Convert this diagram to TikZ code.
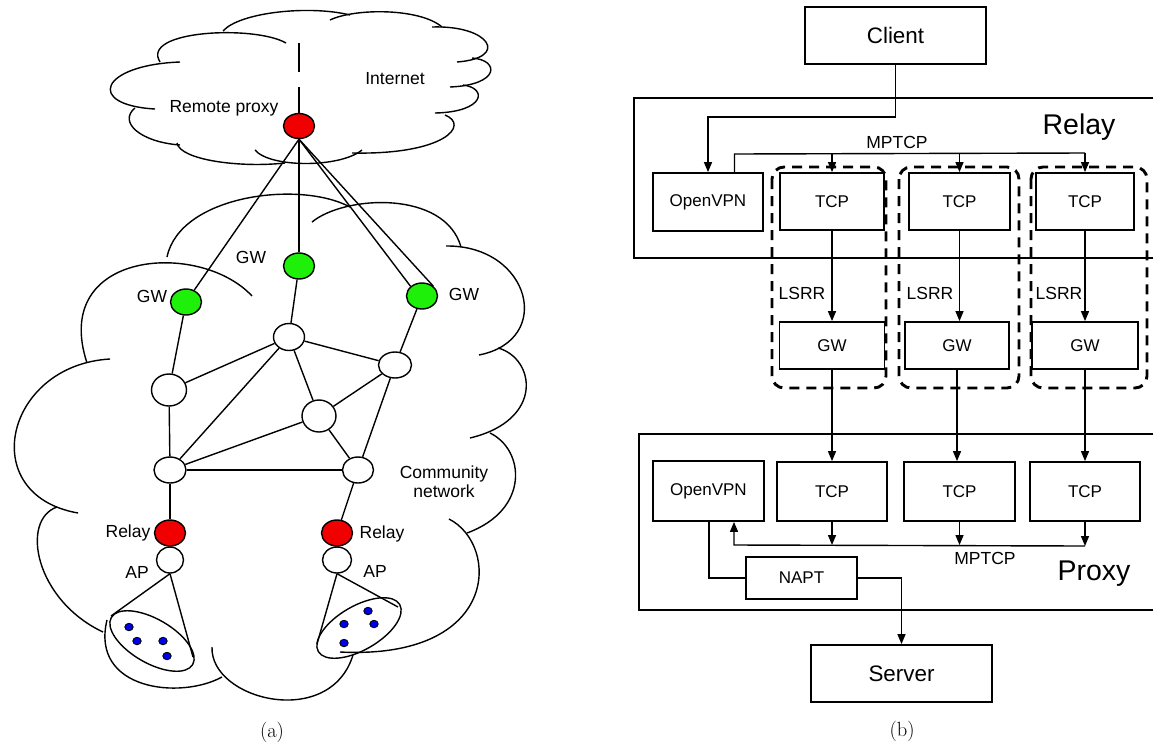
\documentclass[tikz,border=0pt]{standalone}
\usepackage{fontspec}
\newfontfamily\arialfont{Liberation Sans}
\usetikzlibrary{shapes.geometric,arrows.meta}
\definecolor{nodered}{RGB}{240,0,0}
\definecolor{gwgreen}{RGB}{30,240,10}
\definecolor{devblue}{RGB}{0,0,230}
\tikzset{
  lbl/.style={font=\arialfont\fontsize{17.5}{19}\selectfont, inner sep=0pt},
  net/.style={draw, ellipse, inner sep=0pt, minimum width=31pt, minimum height=26pt},
  rnode/.style={net, fill=nodered},
  gnode/.style={net, fill=gwgreen},
  wnode/.style={net, fill=white},
  devgroup/.style={draw, ellipse, inner sep=0pt, minimum width=94pt, minimum height=44pt},
  devdot/.style={draw, ellipse, fill=devblue, line width=0.8pt, inner sep=0pt, minimum width=8.5pt, minimum height=7.5pt},
  boxnode/.style={draw, line width=1.8pt, inner sep=0pt, font=\arialfont\fontsize{17}{20}\selectfont},
  endbox/.style={boxnode, font=\arialfont\fontsize{22.4}{26}\selectfont},
  container/.style={line width=1.8pt},
  arr/.style={-{Triangle[length=10pt,width=8pt]}},
  grp/.style={draw, line width=2.9pt, dash pattern=on 10pt off 7pt, rounded corners=12pt},
  bigtitle/.style={font=\arialfont\fontsize{28.5}{32}\selectfont, inner sep=0pt},
  captxt/.style={font=\fontsize{20.5}{24}\selectfont, inner sep=0pt}
}
\begin{document}
\begin{tikzpicture}[x=1pt,y=-1pt,line width=1.4pt]
\useasboundingbox (0,0) rectangle (1153,745);

% ---------------- (a) ----------------
% Internet cloud
\draw (286,43) .. controls (255,25) and (140,30) .. (160,62);
\draw (223,31) .. controls (240,12) and (310,5) .. (350,15);
\draw (330,20) .. controls (355,8) and (420,8) .. (442,27);
\draw (432,27) .. controls (490,25) and (510,58) .. (457,62);
\draw (472,58) .. controls (500,60) and (500,85) .. (450,87);
\draw (463,85) .. controls (488,88) and (485,112) .. (435,113);
\draw (445,115) .. controls (470,125) and (445,155) .. (352,153);
\draw (362,150) .. controls (340,168) and (270,168) .. (255,150);
\draw (177,143) .. controls (180,160) and (240,168) .. (285,163);
\draw (135,108) .. controls (118,122) and (140,142) .. (180,145);
\draw (180,62) .. controls (100,65) and (85,105) .. (155,109);

% Community network cloud
\draw (167,257) .. controls (180,195) and (300,180) .. (350,207);
\draw (312,222) .. controls (345,195) and (445,190) .. (461,247);
\draw (446,246) .. controls (530,245) and (555,340) .. (479,355);
\draw (498,348) .. controls (535,358) and (545,420) .. (470,438);
\draw (490,433) .. controls (525,450) and (530,510) .. (467,533);
\draw (449,519) .. controls (500,545) and (500,660) .. (340,652);
\draw (212,647) .. controls (210,700) and (330,730) .. (353,655);
\draw (222,677) .. controls (180,700) and (90,690) .. (107,620);
\draw (103,632) .. controls (35,600) and (20,520) .. (57,507);
\draw (110,359) .. controls (5,365) and (-25,495) .. (78,513);
\draw (252,296) .. controls (200,240) and (50,250) .. (87,363);

% nodes
\node[rnode, minimum height=25pt] (rp) at (299,126) {};
\node[gnode] (gwL) at (186,302) {};
\node[gnode] (gwM) at (299,266) {};
\node[gnode] (gwR) at (422,296) {};
\node[wnode, minimum height=27pt] (w1) at (289,337) {};
\node[wnode, minimum width=33pt] (w2) at (395,365) {};
\node[wnode, minimum width=34pt, minimum height=32pt] (w3) at (319,416) {};
\node[wnode, minimum width=35pt, minimum height=32pt] (w4) at (169,390) {};
\node[wnode, minimum width=32pt] (w5) at (170,470) {};
\node[wnode] (w6) at (358,470) {};
\node[rnode] (relL) at (170,533) {};
\node[wnode, minimum width=27pt] (apL) at (170,560) {};
\node[rnode] (relR) at (337,533) {};
\node[wnode, minimum width=29pt] (apR) at (337,560) {};

\coordinate (dtop) at (299,43);
\draw[dash pattern=on 29pt off 15pt] (dtop) -- (rp.north);

\draw (rp.south) -- (gwL);
\draw (rp.south) -- (gwM.north);
\draw (rp.south) -- (gwR.north west);
\draw (rp.south) -- (gwR.north east);

\draw (gwL) -- (w4);
\draw (gwM) -- (w1);
\draw (gwR) -- (w2);
\draw (w1) -- (w4);
\draw (w1) -- (w5);
\draw (w1) -- (w3);
\draw (w1) -- (w2);
\draw (w2) -- (w3);
\draw (w2) -- (w6);
\draw (w3) -- (w5);
\draw (w3) -- (w6);
\draw (w4) -- (w5);
\draw (w5) -- (w6);
\draw (w5) -- (relL);
\draw (w6) -- (relR);

% device groups
\node[devgroup, rotate=-30] (devL) at (152,641) {};
\node[devgroup, rotate=30] (devR) at (359,628) {};
\coordinate (fL1) at (111,616);
\coordinate (fL2) at (193,657);
\coordinate (fR1) at (317,644);
\coordinate (fR2) at (398,607);
\draw (apL.south) -- (fL1);
\draw (apL.south) -- (fL2);
\draw (apR.south) -- (fR1);
\draw (apR.south) -- (fR2);
\node[devdot] (dl1) at (129,627) {};
\node[devdot] (dl2) at (137,641) {};
\node[devdot] (dl3) at (163,641) {};
\node[devdot] (dl4) at (167,656) {};
\node[devdot] (dr1) at (368,611) {};
\node[devdot] (dr2) at (344,624) {};
\node[devdot] (dr3) at (374,624) {};
\node[devdot] (dr4) at (344,643) {};

% labels
\node[lbl] (tRP) at (224,108) {Remote proxy};
\node[lbl] (tInt) at (395,79) {Internet};
\node[lbl] (tGWL) at (152,296) {GW};
\node[lbl] (tGWM) at (251,257) {GW};
\node[lbl] (tGWR) at (464,294) {GW};
\node[lbl] (tRelL) at (128,533) {Relay};
\node[lbl] (tRelR) at (382,534) {Relay};
\node[lbl] (tAPL) at (137,572) {AP};
\node[lbl] (tAPR) at (375,571) {AP};
\node[lbl, align=center] (tCom) at (444,482) {Community\\network};

\node[captxt] (capA) at (272,732) {(a)};

% ---------------- (b) ----------------
\draw[container] (1153,98) -- (634,98) -- (634,258) -- (1153,258);
\draw[container] (1153,434) -- (639,434) -- (639,610) -- (1153,610);
\node[bigtitle] (tRelay) at (1079,127) {Relay};
\node[bigtitle] (tProxy) at (1094,574) {Proxy};

\node[endbox, minimum width=181pt, minimum height=57pt] (client) at (895.5,35.5) {Client};
\node[endbox, minimum width=181pt, minimum height=57pt] (server) at (901.5,673.5) {Server};

\node[boxnode, minimum width=110pt, minimum height=58pt] (rOV) at (708,202) {OpenVPN};
\node[boxnode, minimum width=104pt, minimum height=57pt] (rT1) at (832,201.5) {TCP};
\node[boxnode, minimum width=101pt, minimum height=57pt] (rT2) at (959.5,201.5) {TCP};
\node[boxnode, minimum width=98pt, minimum height=57pt] (rT3) at (1085,201.5) {TCP};

\node[boxnode, minimum width=105pt, minimum height=47pt] (rG1) at (832,345.5) {GW};
\node[boxnode, minimum width=104pt, minimum height=47pt] (rG2) at (957,345.5) {GW};
\node[boxnode, minimum width=106pt, minimum height=47pt] (rG3) at (1085,345.5) {GW};

\draw[grp] (772,167) rectangle (886,388);
\draw[grp] (899,167) rectangle (1019,388);
\draw[grp] (1031,167) rectangle (1147,388);

\node[lbl] (ls1) at (802,293) {LSRR};
\node[lbl] (ls2) at (930,293) {LSRR};
\node[lbl] (ls3) at (1059,293) {LSRR};

\node[boxnode, minimum width=111pt, minimum height=60pt] (pOV) at (708.5,491) {OpenVPN};
\node[boxnode, minimum width=110pt, minimum height=59pt] (pT1) at (832,491.5) {TCP};
\node[boxnode, minimum width=111pt, minimum height=59pt] (pT2) at (959.5,491.5) {TCP};
\node[boxnode, minimum width=110pt, minimum height=59pt] (pT3) at (1085,491.5) {TCP};
\node[boxnode, minimum width=111pt, minimum height=42pt] (napt) at (801.5,578) {NAPT};

% client -> openvpn
\coordinate (cturn) at (895.5,117);
\draw[arr] (client.south) -- (cturn) -| (rOV.north);

% MPTCP (relay)
\coordinate (mpL) at (734.5,154);
\coordinate (mpR) at (1085,153);
\draw (rOV.north -| mpL) -- (mpL) -- (mpR);
\node[lbl] (tMP1) at (897,142) {MPTCP};
\draw[arr] (mpL -| rT1.north) -- (rT1.north);
\draw[arr] (mpL -| rT2.north) -- (rT2.north);
\draw[arr] (mpR) -- (rT3.north);

% TCP -> GW -> proxy TCP
\draw[arr] (rT1.south) -- (rG1.north);
\draw[arr] (rT2.south) -- (rG2.north -| rT2.south);
\draw[arr] (rT3.south) -- (rG3.north);
\draw[arr] (rG1.south) -- (pT1.north);
\draw[arr] (rG2.south) -- (pT2.north -| rG2.south);
\draw[arr] (rG3.south) -- (pT3.north);

% MPTCP (proxy)
\coordinate (busL) at (734,545);
\coordinate (busR) at (1085,546);
\draw[arr] (pT1.south) -- (pT1.south |- busL);
\draw[arr] (pT2.south) -- (pT2.south |- busL);
\draw[arr] (pT3.south) -- (busR);
\draw[arr] (busR) -- (busL) -- (busL |- pOV.south);
\node[lbl] (tMP2) at (985,558) {MPTCP};

% openvpn -> NAPT -> server
\coordinate (nturn) at (709,578);
\draw (pOV.south -| nturn) -- (nturn) -- (napt.west);
\draw[arr] (napt.east) -| (server.north);

\node[captxt] (capB) at (902,731) {(b)};
\end{tikzpicture}
\end{document}
